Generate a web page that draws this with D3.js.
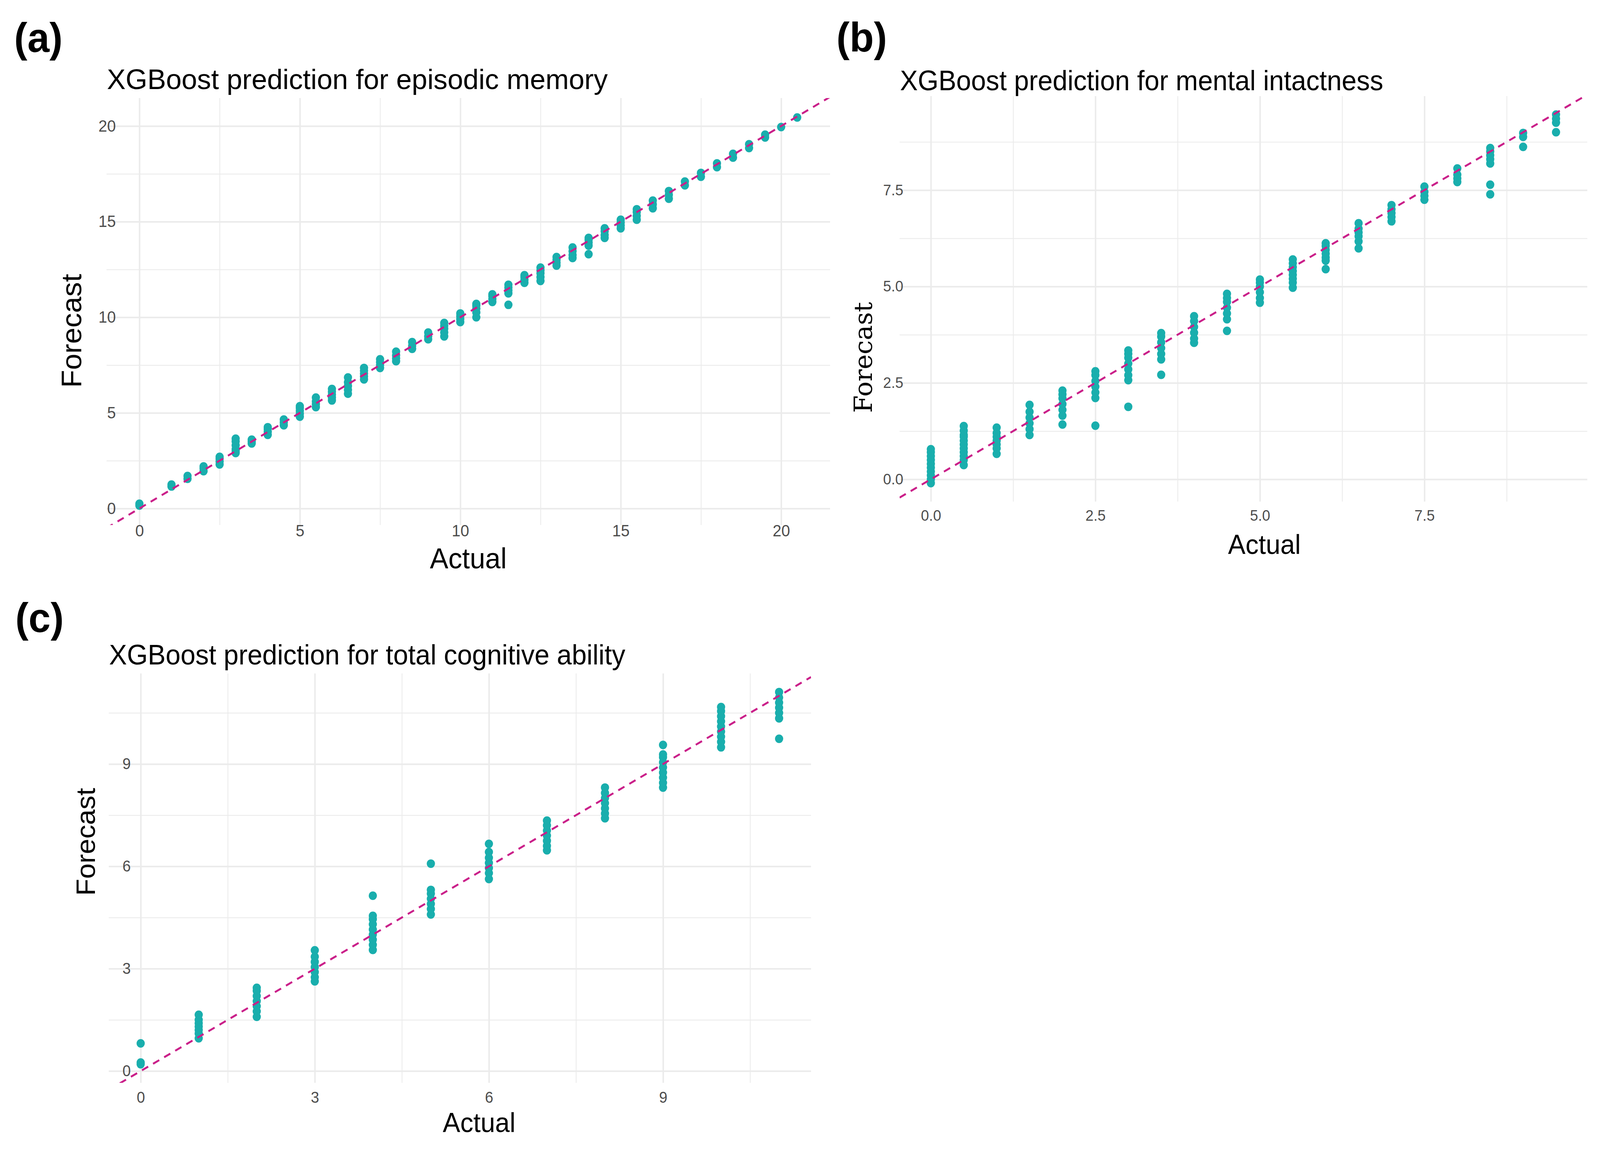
<!DOCTYPE html>
<html>
<head>
<meta charset="utf-8">
<script src="https://cdn.jsdelivr.net/npm/d3@7"></script>
<style>
html, body { margin: 0; width: 100%; height: 100%; overflow: hidden; background: #fff; }
svg { display: block; width: 100vw; height: 100vh; }
text { font-family: "Liberation Sans", Arial, sans-serif; }
</style>
</head>
<body>
<svg id="fig" viewBox="0 0 4281 2967" preserveAspectRatio="none"></svg>
<script>
// (a) episodic memory
var epiActual = [0, 1, 1.5, 2, 2.5, 3, 3.5, 4, 4.5, 5, 5.5, 6, 6.5, 7, 7.5, 8, 8.5, 9, 9.5, 10,
  10.5, 11, 11.5, 12, 12.5, 13, 13.5, 14, 14.5, 15, 15.5, 16, 16.5, 17, 17.5, 18, 18.5, 19, 19.5, 20, 20.5];
var epiForecast = [
  [0.15, 0.25], [1.15, 1.25], [1.55, 1.7], [1.95, 2.1, 2.2], [2.3, 2.45, 2.6, 2.7],
  [2.9, 3.0, 3.1, 3.3, 3.5, 3.65], [3.4, 3.5, 3.6], [3.85, 4.0, 4.15, 4.25], [4.35, 4.5, 4.65],
  [4.8, 4.95, 5.1, 5.25, 5.35], [5.3, 5.45, 5.6, 5.8], [5.65, 5.8, 5.95, 6.1, 6.25],
  [6.0, 6.2, 6.4, 6.6, 6.85], [6.75, 6.9, 7.05, 7.2, 7.35], [7.35, 7.5, 7.65, 7.8],
  [7.7, 7.85, 8.0, 8.2], [8.35, 8.5, 8.7], [8.85, 9.0, 9.2], [9.0, 9.2, 9.4, 9.55, 9.7],
  [9.75, 9.9, 10.05, 10.2], [10.0, 10.25, 10.45, 10.6, 10.7], [10.8, 10.95, 11.1, 11.2],
  [10.65, 11.25, 11.4, 11.55, 11.7], [11.8, 11.95, 12.1, 12.2], [11.9, 12.1, 12.3, 12.45, 12.6],
  [12.7, 12.85, 13.0, 13.15], [13.1, 13.25, 13.45, 13.65], [13.3, 13.75, 13.9, 14.05, 14.15],
  [14.15, 14.3, 14.5, 14.65], [14.65, 14.8, 14.95, 15.1], [15.1, 15.3, 15.5, 15.65],
  [15.7, 15.9, 16.1], [16.2, 16.4, 16.6], [16.9, 17.1], [17.35, 17.55], [17.85, 18.05],
  [18.35, 18.55], [18.85, 19.05], [19.4, 19.55], [19.95], [20.45]
];
var epiBreaks = [0, 5, 10, 15, 20];
var epiMinor = [2.5, 7.5, 12.5, 17.5];

// (b) mental intactness
var mentActual = [0, 0.5, 1, 1.5, 2, 2.5, 3, 3.5, 4, 4.5, 5, 5.5, 6, 6.5, 7, 7.5, 8, 8.5, 9, 9.5];
var mentForecast = [
  [-0.1, 0.0, 0.1, 0.2, 0.3, 0.4, 0.5, 0.6, 0.7, 0.78],
  [0.37, 0.5, 0.6, 0.7, 0.8, 0.9, 1.0, 1.1, 1.15, 1.26, 1.38],
  [0.66, 0.8, 0.9, 1.0, 1.1, 1.2, 1.34],
  [1.15, 1.3, 1.45, 1.6, 1.75, 1.93],
  [1.42, 1.65, 1.8, 1.95, 2.1, 2.2, 2.3],
  [1.39, 2.11, 2.25, 2.4, 2.55, 2.7, 2.8],
  [1.88, 2.57, 2.7, 2.85, 3.0, 3.15, 3.25, 3.34],
  [2.71, 3.11, 3.25, 3.4, 3.55, 3.7, 3.79],
  [3.54, 3.65, 3.8, 3.95, 4.1, 4.23],
  [3.85, 4.15, 4.3, 4.45, 4.6, 4.7, 4.81],
  [4.58, 4.7, 4.85, 5.0, 5.1, 5.18],
  [4.97, 5.1, 5.2, 5.3, 5.4, 5.5, 5.6, 5.7],
  [5.45, 5.67, 5.75, 5.85, 5.95, 6.05, 6.12],
  [5.99, 6.17, 6.3, 6.4, 6.5, 6.64],
  [6.69, 6.8, 6.9, 7.0, 7.11],
  [7.25, 7.35, 7.45, 7.59],
  [7.71, 7.8, 7.9, 8.06],
  [7.39, 7.64, 8.19, 8.3, 8.4, 8.5, 8.59],
  [8.62, 8.88, 8.98],
  [9.0, 9.25, 9.35, 9.46]
];
var mentBreaks = [0, 2.5, 5, 7.5];
var mentMinor = [1.25, 3.75, 6.25, 8.75];

// (c) total cognitive ability
var cogActual = [0, 1, 2, 3, 4, 5, 6, 7, 8, 9, 10, 11];
var cogForecast = [
  [0.2, 0.25, 0.81],
  [0.96, 1.1, 1.2, 1.3, 1.4, 1.5, 1.65],
  [1.59, 1.75, 1.9, 2.05, 2.2, 2.35, 2.44],
  [2.63, 2.75, 2.9, 3.05, 3.2, 3.35, 3.54],
  [3.55, 3.7, 3.85, 4.0, 4.15, 4.3, 4.45, 4.55, 5.14],
  [4.59, 4.75, 4.9, 5.05, 5.2, 5.31, 6.08],
  [5.63, 5.8, 5.95, 6.1, 6.25, 6.42, 6.66],
  [6.47, 6.6, 6.75, 6.9, 7.05, 7.2, 7.34],
  [7.41, 7.55, 7.7, 7.85, 8.0, 8.15, 8.31],
  [8.31, 8.45, 8.6, 8.75, 8.9, 9.05, 9.2, 9.28, 9.56],
  [9.49, 9.65, 9.8, 9.95, 10.1, 10.25, 10.4, 10.55, 10.67],
  [9.74, 10.34, 10.5, 10.65, 10.8, 10.95, 11.11]
];
var cogBreaks = [0, 3, 6, 9];
var cogMinor = [1.5, 4.5, 7.5, 10.5];

var POINT = '#19AEAD',
    ABLINE = '#CA1F89',
    GRID = '#EBEBEB',
    TICK = '#4D4D4D';

function points(actual, forecast) {
  var out = [];
  actual.forEach(function (a, i) {
    forecast[i].forEach(function (f) {
      out.push({x: a, y: f});
    });
  });
  return out;
}

// ggplot style 5% expansion
function expand(ext) {
  var d = (ext[1] - ext[0]) * 0.05;
  return [ext[0] - d, ext[1] + d];
}

function ScatterPanel(svg, cfg) {
  this.svg = svg;
  this.cfg = cfg;
  this.data = points(cfg.actual, cfg.forecast);
  this.x = d3.scaleLinear()
    .domain(expand(d3.extent(this.data, function (d) { return d.x; })))
    .range([cfg.left, cfg.left + cfg.width]);
  this.y = d3.scaleLinear()
    .domain(expand(d3.extent(this.data, function (d) { return d.y; })))
    .range([cfg.top + cfg.height, cfg.top]);
}
ScatterPanel.prototype.grid = function (g, values, width) {
  var cfg = this.cfg, x = this.x, y = this.y;
  var v = g.append('g')
    .attr('transform', 'translate(0,' + (cfg.top + cfg.height) + ')')
    .call(d3.axisBottom(x).tickValues(values).tickSize(-cfg.height).tickFormat(''));
  var h = g.append('g')
    .attr('transform', 'translate(' + cfg.left + ',0)')
    .call(d3.axisLeft(y).tickValues(values).tickSize(-cfg.width).tickFormat(''));
  [v, h].forEach(function (a) {
    a.select('.domain').remove();
    a.selectAll('line').attr('stroke', GRID).attr('stroke-width', width);
  });
};
ScatterPanel.prototype.draw = function () {
  var cfg = this.cfg, x = this.x, y = this.y, svg = this.svg;
  var g = svg.append('g').attr('class', 'panel-' + cfg.id);
  var clipId = 'clip-' + cfg.id;

  g.append('clipPath').attr('id', clipId).append('rect')
    .attr('x', cfg.left).attr('y', cfg.top)
    .attr('width', cfg.width).attr('height', cfg.height);

  this.grid(g, cfg.minor, 2.2);
  this.grid(g, cfg.breaks, 4);

  g.append('g').selectAll('circle').data(this.data)
    .enter().append('circle')
    .attr('cx', function (d) { return x(d.x); })
    .attr('cy', function (d) { return y(d.y); })
    .attr('r', 11)
    .attr('fill', POINT);

  var dom = x.domain();
  g.append('line')
    .attr('clip-path', 'url(#' + clipId + ')')
    .attr('x1', x(dom[0])).attr('y1', y(dom[0]))
    .attr('x2', x(dom[1])).attr('y2', y(dom[1]))
    .attr('stroke', ABLINE)
    .attr('stroke-width', 5)
    .attr('stroke-dasharray', '19,15');

  // tick labels
  var fmt = d3.format(cfg.fmt);
  var xa = g.append('g')
    .attr('transform', 'translate(0,' + cfg.xLabelTop + ')')
    .call(d3.axisBottom(x).tickValues(cfg.breaks).tickSize(0).tickPadding(0).tickFormat(fmt));
  var ya = g.append('g')
    .attr('transform', 'translate(' + cfg.yLabelRight + ',0)')
    .call(d3.axisLeft(y).tickValues(cfg.breaks).tickSize(0).tickPadding(0).tickFormat(fmt));
  [xa, ya].forEach(function (a) {
    a.select('.domain').remove();
    a.attr('font-family', '"Liberation Sans", Arial, sans-serif')
      .attr('font-size', cfg.tickSize);
    a.selectAll('text').attr('fill', TICK);
  });

  g.append('text')
    .attr('x', cfg.left + 1).attr('y', cfg.titleY)
    .attr('font-size', 73)
    .attr('fill', '#000')
    .attr('textLength', cfg.titleLength)
    .attr('lengthAdjust', 'spacingAndGlyphs')
    .text(cfg.title);

  g.append('text')
    .attr('x', cfg.xTitleX).attr('y', cfg.xTitleY)
    .attr('text-anchor', 'middle')
    .attr('font-size', cfg.xTitleSize)
    .text('Actual');

  var yt = g.append('text')
    .attr('transform', 'translate(' + cfg.yTitleX + ',' + cfg.yTitleY + ') rotate(-90)')
    .attr('text-anchor', 'middle')
    .attr('font-size', cfg.yTitleSize)
    .text('Forecast');
  if (cfg.yTitleFont) {
    yt.style('font-family', cfg.yTitleFont)
      .attr('textLength', cfg.yTitleLength)
      .attr('lengthAdjust', 'spacingAndGlyphs');
  }

  svg.append('text')
    .attr('x', cfg.tagX).attr('y', cfg.tagY)
    .attr('font-size', 106)
    .attr('font-weight', 'bold')
    .text(cfg.tag);
};

var svg = d3.select('#fig');
svg.append('rect').attr('width', 4281).attr('height', 2967).attr('fill', '#fff');

new ScatterPanel(svg, {
  id: 'a', tag: '(a)', tagX: 38, tagY: 133,
  title: 'XGBoost prediction for episodic memory', titleY: 228, titleLength: 1340,
  actual: epiActual, forecast: epiForecast, breaks: epiBreaks, minor: epiMinor, fmt: 'd',
  left: 285, top: 251, width: 1936, height: 1093,
  tickSize: 42, xLabelTop: 1343, yLabelRight: 310,
  xTitleX: 1253, xTitleY: 1455, xTitleSize: 74,
  yTitleX: 217, yTitleY: 847, yTitleSize: 75
}).draw();

new ScatterPanel(svg, {
  id: 'b', tag: '(b)', tagX: 2238, tagY: 132,
  title: 'XGBoost prediction for mental intactness', titleY: 231, titleLength: 1293,
  actual: mentActual, forecast: mentForecast, breaks: mentBreaks, minor: mentMinor, fmt: '.1f',
  left: 2407, top: 246, width: 1840, height: 1038,
  tickSize: 39, xLabelTop: 1305, yLabelRight: 2417,
  xTitleX: 3383, xTitleY: 1418, xTitleSize: 70,
  yTitleX: 2333, yTitleY: 915, yTitleSize: 66,
  yTitleFont: '"DejaVu Serif", serif', yTitleLength: 284
}).draw();

new ScatterPanel(svg, {
  id: 'c', tag: '(c)', tagX: 41, tagY: 1618,
  title: 'XGBoost prediction for total cognitive ability', titleY: 1701, titleLength: 1381,
  actual: cogActual, forecast: cogForecast, breaks: cogBreaks, minor: cogMinor, fmt: 'd',
  left: 291, top: 1724, width: 1879, height: 1048,
  tickSize: 40, xLabelTop: 2795, yLabelRight: 350,
  xTitleX: 1282, xTitleY: 2898, xTitleSize: 70,
  yTitleX: 254, yTitleY: 2155, yTitleSize: 71
}).draw();
</script>
</body>
</html>
